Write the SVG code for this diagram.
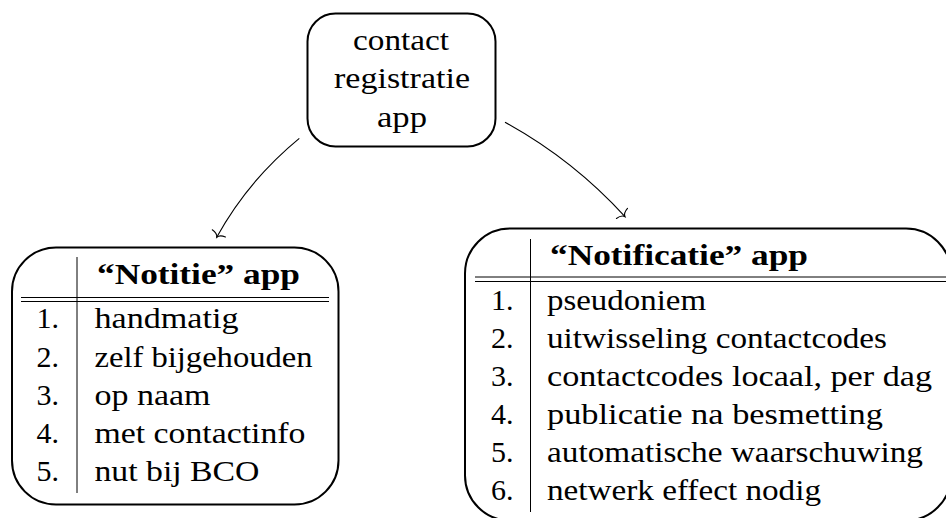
<svg xmlns="http://www.w3.org/2000/svg" width="946" height="518" viewBox="0 0 946 518">
<style>
  .box { fill: #ffffff; stroke: #000000; stroke-width: 2; }
  .rule { stroke: #000000; stroke-width: 1; fill: none; }
  text { font-size: 30px; fill: #000000; }
  .h { font-weight: bold; }
  .num { text-anchor: end; }
  .edge { fill: none; stroke: #000000; stroke-width: 1.1; }
</style>
<defs>
  <marker id="to" markerUnits="userSpaceOnUse" orient="auto" markerWidth="14" markerHeight="18" viewBox="-6 -9 8 18" refX="0" refY="0" overflow="visible">
    <path d="M -4.5,-7.5 C -4,-3 -1.5,-0.5 0,0 C -1.5,0.5 -4,3 -4.5,7.5" fill="none" stroke="#000000" stroke-width="1.1" stroke-linecap="round"/>
  </marker>
</defs>

<g id="connectors">
  <path class="edge" d="M 299.3,138.3 Q 248,180.5 216.7,237.3" marker-end="url(#to)"/>
  <path class="edge" d="M 505,122.3 Q 572.8,159.5 625,216.7" marker-end="url(#to)"/>
</g>

<g id="node-contact" font-family="Liberation Serif, Times New Roman, DejaVu Serif, serif">
  <rect class="box" x="307.5" y="13.5" width="188" height="133" rx="28" ry="28"/>
  <text x="353" y="50" textLength="96" lengthAdjust="spacingAndGlyphs">contact</text>
  <text x="334" y="88" textLength="136" lengthAdjust="spacingAndGlyphs">registratie</text>
  <text x="377" y="127" textLength="50" lengthAdjust="spacingAndGlyphs">app</text>
</g>

<g id="node-notitie" font-family="Liberation Serif, Times New Roman, DejaVu Serif, serif">
  <rect class="box" x="12" y="247.5" width="326.5" height="257" rx="44" ry="44"/>
  <line class="rule" x1="77" y1="257" x2="77" y2="493"/>
  <line class="rule" x1="21" y1="297.5" x2="329" y2="297.5"/>
  <line class="rule" x1="21" y1="301.5" x2="329" y2="301.5"/>
  <text class="h" x="97" y="283.5" textLength="203" lengthAdjust="spacingAndGlyphs">“Notitie” app</text>
  <text class="num" x="59" y="328.3">1.</text>
  <text class="num" x="59" y="366.5">2.</text>
  <text class="num" x="59" y="404.7">3.</text>
  <text class="num" x="59" y="442.9">4.</text>
  <text class="num" x="59" y="481.1">5.</text>
  <text x="94.5" y="328.3" textLength="144" lengthAdjust="spacingAndGlyphs">handmatig</text>
  <text x="94.5" y="366.5" textLength="218" lengthAdjust="spacingAndGlyphs">zelf bijgehouden</text>
  <text x="94.5" y="404.7" textLength="116" lengthAdjust="spacingAndGlyphs">op naam</text>
  <text x="94.5" y="442.9" textLength="211" lengthAdjust="spacingAndGlyphs">met contactinfo</text>
  <text x="94.5" y="481.1" textLength="165" lengthAdjust="spacingAndGlyphs">nut bij BCO</text>
</g>

<g id="node-notificatie" font-family="Liberation Serif, Times New Roman, DejaVu Serif, serif">
  <rect class="box" x="465" y="228.5" width="486" height="292" rx="45" ry="45"/>
  <line class="rule" x1="530.5" y1="239" x2="530.5" y2="512"/>
  <line class="rule" x1="475" y1="277" x2="946" y2="277"/>
  <line class="rule" x1="475" y1="281.5" x2="946" y2="281.5"/>
  <text class="h" x="550" y="265" textLength="258" lengthAdjust="spacingAndGlyphs">“Notificatie” app</text>
  <text class="num" x="513.5" y="310">1.</text>
  <text class="num" x="513.5" y="348">2.</text>
  <text class="num" x="513.5" y="386">3.</text>
  <text class="num" x="513.5" y="424">4.</text>
  <text class="num" x="513.5" y="462">5.</text>
  <text class="num" x="513.5" y="500">6.</text>
  <text x="547" y="310" textLength="159" lengthAdjust="spacingAndGlyphs">pseudoniem</text>
  <text x="547" y="348" textLength="340" lengthAdjust="spacingAndGlyphs">uitwisseling contactcodes</text>
  <text x="547" y="386" textLength="385" lengthAdjust="spacingAndGlyphs">contactcodes locaal, per dag</text>
  <text x="547" y="424" textLength="336" lengthAdjust="spacingAndGlyphs">publicatie na besmetting</text>
  <text x="547" y="462" textLength="376" lengthAdjust="spacingAndGlyphs">automatische waarschuwing</text>
  <text x="547" y="500" textLength="274" lengthAdjust="spacingAndGlyphs">netwerk effect nodig</text>
</g>
</svg>
